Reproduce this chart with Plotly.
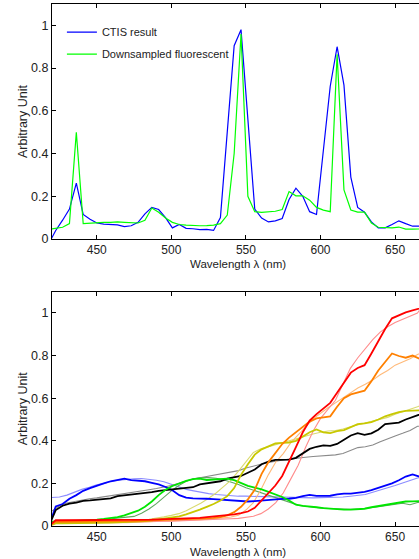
import plotly.graph_objects as go

# ---------------- data: top panel ----------------
wl_top = [417.9, 422.5, 427.1, 431.7, 436.3, 440.9, 445.5, 450.1, 454.7, 459.3,
          463.9, 468.5, 473.1, 477.7, 482.3, 486.9, 491.5, 496.1, 500.7, 505.3,
          509.9, 514.5, 519.1, 523.7, 528.3, 532.9, 537.5, 542.1, 546.7, 551.3,
          555.9, 560.5, 565.1, 569.7, 574.3, 578.9, 583.5, 588.1, 592.7, 597.3,
          601.9, 606.5, 611.1, 615.7, 620.3, 624.9, 629.5, 634.1, 638.7, 643.3,
          647.9, 652.5, 657.1, 661.7, 666.3, 670.9]

ctis_result = [-0.02, 0.04, 0.088, 0.14, 0.262, 0.115, 0.092, 0.075, 0.07, 0.068,
               0.066, 0.058, 0.062, 0.078, 0.118, 0.148, 0.138, 0.1, 0.052, 0.068,
               0.05, 0.048, 0.044, 0.045, 0.04, 0.1, 0.5, 0.905, 0.98, 0.56,
               0.14, 0.098, 0.08, 0.085, 0.096, 0.185, 0.238, 0.2, 0.128, 0.115,
               0.41, 0.715, 0.9, 0.72, 0.29, 0.148, 0.125, 0.08, 0.052, 0.052,
               0.068, 0.085, 0.072, 0.06, 0.06, 0.06]

fluorescent = [0.045, 0.05, 0.055, 0.072, 0.5, 0.072, 0.075, 0.077, 0.078, 0.078,
               0.08, 0.078, 0.076, 0.075, 0.088, 0.145, 0.125, 0.098, 0.078, 0.068,
               0.065, 0.063, 0.062, 0.063, 0.065, 0.072, 0.112, 0.4, 0.96, 0.2,
               0.128, 0.125, 0.128, 0.13, 0.138, 0.222, 0.202, 0.202, 0.182, 0.148,
               0.135, 0.128, 0.865, 0.23, 0.136, 0.126, 0.126, 0.075, 0.055, 0.052,
               0.052, 0.056, 0.046, 0.046, 0.048, 0.048]

# ---------------- data: bottom panel ----------------
# CTIS reconstructions (thick lines) on the CTIS wavelength grid
wl_ctis = wl_top

blue_ctis = [0.0, 0.092, 0.103, 0.128, 0.145, 0.165, 0.178, 0.19, 0.2, 0.21,
             0.216, 0.222, 0.215, 0.213, 0.21, 0.203, 0.195, 0.183, 0.168, 0.145,
             0.133, 0.13, 0.13, 0.128, 0.126, 0.124, 0.122, 0.12, 0.115, 0.115,
             0.117, 0.12, 0.12, 0.124, 0.127, 0.128, 0.132, 0.14, 0.146, 0.141,
             0.14, 0.142, 0.148, 0.152, 0.152, 0.155, 0.16, 0.168, 0.178, 0.19,
             0.2, 0.215, 0.232, 0.242, 0.232, 0.235]

black_ctis = [0.0, 0.075, 0.095, 0.105, 0.11, 0.118, 0.12, 0.124, 0.126, 0.13,
              0.14, 0.144, 0.147, 0.15, 0.153, 0.159, 0.165, 0.168, 0.172, 0.174,
              0.178, 0.182, 0.195, 0.2, 0.205, 0.21, 0.222, 0.228, 0.235, 0.25,
              0.265, 0.29, 0.302, 0.31, 0.312, 0.312, 0.32, 0.34, 0.362, 0.372,
              0.378, 0.376, 0.385, 0.405, 0.425, 0.436, 0.428, 0.435, 0.452, 0.478,
              0.48, 0.485, 0.5, 0.512, 0.527, 0.535]

green_ctis = [0.02, 0.022, 0.022, 0.023, 0.024, 0.025, 0.027, 0.03, 0.033, 0.037,
              0.042, 0.05, 0.06, 0.072, 0.09, 0.115, 0.145, 0.17, 0.188, 0.2,
              0.212, 0.22, 0.222, 0.216, 0.218, 0.222, 0.222, 0.215, 0.203, 0.188,
              0.18, 0.172, 0.16, 0.148, 0.136, 0.12, 0.1, 0.094, 0.092, 0.088,
              0.084, 0.081, 0.078, 0.077, 0.077, 0.078, 0.081, 0.088, 0.093, 0.1,
              0.106, 0.11, 0.115, 0.116, 0.117, 0.117]

yellow_ctis = [0.0, 0.012, 0.013, 0.013, 0.013, 0.014, 0.014, 0.015, 0.015, 0.016,
               0.017, 0.018, 0.019, 0.021, 0.023, 0.026, 0.03, 0.034, 0.038, 0.045,
               0.055, 0.065, 0.077, 0.09, 0.103, 0.12, 0.14, 0.178, 0.24, 0.29,
               0.335, 0.36, 0.375, 0.388, 0.39, 0.392, 0.4, 0.418, 0.44, 0.453,
               0.44, 0.436, 0.445, 0.45, 0.465, 0.478, 0.482, 0.488, 0.5, 0.515,
               0.525, 0.535, 0.54, 0.541, 0.542, 0.545]

orange_ctis = [0.0, 0.02, 0.02, 0.02, 0.02, 0.02, 0.02, 0.021, 0.021, 0.022,
               0.022, 0.023, 0.023, 0.024, 0.025, 0.025, 0.026, 0.027, 0.028, 0.029,
               0.03, 0.032, 0.034, 0.036, 0.038, 0.042, 0.05, 0.065, 0.09, 0.125,
               0.17, 0.245, 0.3, 0.345, 0.385, 0.415, 0.44, 0.468, 0.49, 0.505,
               0.51, 0.515, 0.56, 0.6, 0.618, 0.628, 0.635, 0.68, 0.73, 0.77,
               0.81, 0.798, 0.79, 0.8, 0.785, 0.785]

red_ctis = [0.0, 0.027, 0.027, 0.027, 0.027, 0.027, 0.027, 0.027, 0.027, 0.027,
            0.027, 0.027, 0.028, 0.028, 0.029, 0.03, 0.031, 0.032, 0.033, 0.034,
            0.035, 0.036, 0.038, 0.042, 0.045, 0.048, 0.05, 0.055, 0.06, 0.068,
            0.085, 0.12, 0.15, 0.19, 0.235, 0.3, 0.37, 0.44, 0.495, 0.525,
            0.553, 0.578, 0.625, 0.675, 0.72, 0.742, 0.755, 0.81, 0.87, 0.925,
            0.975, 0.988, 1.003, 1.012, 1.022, 1.03]

# Reference spectrometer measurements (thin lines)
wl_ref = [420, 425, 430, 435, 440, 445, 450, 455, 460, 465, 470, 475, 480, 485,
          490, 495, 500, 505, 510, 515, 520, 525, 530, 535, 540, 545, 550, 555,
          560, 565, 570, 575, 580, 585, 590, 595, 600, 605, 610, 615, 620, 625,
          630, 635, 640, 645, 650, 655, 660, 665, 670]

blue_ref = [0.134, 0.136, 0.145, 0.16, 0.172, 0.182, 0.193, 0.2, 0.21, 0.215,
            0.22, 0.222, 0.223, 0.22, 0.215, 0.208, 0.195, 0.182, 0.172, 0.165,
            0.158, 0.152, 0.148, 0.145, 0.142, 0.14, 0.14, 0.139, 0.138, 0.137,
            0.136, 0.134, 0.132, 0.131, 0.131, 0.132, 0.133, 0.133, 0.134, 0.136,
            0.14, 0.145, 0.148, 0.158, 0.168, 0.178, 0.19, 0.202, 0.214, 0.225,
            0.232]

black_ref = [0.07, 0.095, 0.108, 0.115, 0.122, 0.128, 0.132, 0.137, 0.142, 0.148,
             0.153, 0.158, 0.164, 0.17, 0.176, 0.182, 0.19, 0.2, 0.212, 0.222,
             0.228, 0.235, 0.24, 0.247, 0.253, 0.26, 0.272, 0.282, 0.29, 0.298,
             0.305, 0.31, 0.315, 0.32, 0.323, 0.326, 0.329, 0.33, 0.334, 0.34,
             0.355, 0.368, 0.372, 0.38, 0.395, 0.41, 0.423, 0.435, 0.448, 0.468,
             0.47]

green_ref = [0.02, 0.02, 0.021, 0.022, 0.023, 0.025, 0.027, 0.03, 0.034, 0.038,
             0.043, 0.045, 0.06, 0.08, 0.105, 0.135, 0.165, 0.19, 0.21, 0.222,
             0.227, 0.227, 0.224, 0.217, 0.207, 0.195, 0.18, 0.168, 0.157, 0.145,
             0.133, 0.12, 0.108, 0.098, 0.093, 0.088, 0.085, 0.082, 0.08, 0.078,
             0.078, 0.079, 0.082, 0.087, 0.092, 0.098, 0.103, 0.107, 0.1, 0.11,
             0.112]

yellow_ref = [0.015, 0.015, 0.015, 0.016, 0.016, 0.017, 0.018, 0.019, 0.02, 0.021,
              0.022, 0.024, 0.027, 0.031, 0.036, 0.043, 0.05, 0.058, 0.072, 0.09,
              0.108, 0.13, 0.155, 0.185, 0.215, 0.258, 0.3, 0.345, 0.362, 0.372,
              0.385, 0.395, 0.405, 0.412, 0.423, 0.432, 0.44, 0.446, 0.448, 0.455,
              0.466, 0.475, 0.482, 0.49, 0.5, 0.51, 0.525, 0.538, 0.548, 0.56,
              0.575]

orange_ref = [0.012, 0.012, 0.012, 0.013, 0.013, 0.013, 0.014, 0.014, 0.015, 0.015,
              0.016, 0.017, 0.018, 0.019, 0.02, 0.021, 0.022, 0.024, 0.026, 0.028,
              0.03, 0.032, 0.035, 0.038, 0.042, 0.05, 0.075, 0.11, 0.17, 0.24,
              0.3, 0.34, 0.39, 0.43, 0.465, 0.503, 0.53, 0.555, 0.578, 0.6,
              0.625, 0.648, 0.665, 0.685, 0.71, 0.73, 0.755, 0.77, 0.785, 0.805,
              0.82]

red_ref = [0.015, 0.015, 0.015, 0.015, 0.016, 0.016, 0.016, 0.017, 0.017, 0.018,
           0.018, 0.019, 0.019, 0.02, 0.021, 0.022, 0.023, 0.024, 0.025, 0.026,
           0.028, 0.029, 0.03, 0.032, 0.034, 0.036, 0.04, 0.046, 0.058, 0.08,
           0.11, 0.155, 0.22, 0.285, 0.37, 0.445, 0.505, 0.545, 0.59, 0.665,
           0.74, 0.79, 0.835, 0.875, 0.91, 0.935, 0.955, 0.97, 0.985, 1.0,
           1.05]

x_ticks = [450, 500, 550, 600, 650]
y_ticks = [0, 0.2, 0.4, 0.6, 0.8, 1]
y_ticktext = ["0", "0.2", "0.4", "0.6", "0.8", "1"]

FONT = "Liberation Sans, Arial, Helvetica, sans-serif"
TXT = "#222222"

fig = go.Figure()

# top panel
fig.add_trace(go.Scatter(x=wl_top, y=ctis_result, mode="lines", name="CTIS result",
                         legendgroup="a",
                         line=dict(color="#0000ff", width=1.2), xaxis="x", yaxis="y"))
fig.add_trace(go.Scatter(x=wl_top, y=fluorescent, mode="lines", name="Downsampled fluorescent",
                         legendgroup="b",
                         line=dict(color="#00ff00", width=1.2), xaxis="x", yaxis="y"))

# bottom panel: reference (thin) then CTIS (thick)
ref_series = [
    (blue_ref, "#8c8cff"), (black_ref, "#8a8a8a"), (green_ref, "#5fa85f"),
    (yellow_ref, "#dada70"), (orange_ref, "#ffba7a"), (red_ref, "#ff8c8c"),
]
for vals, col in ref_series:
    fig.add_trace(go.Scatter(x=wl_ref, y=vals, mode="lines", showlegend=False,
                             line=dict(color=col, width=1.1), xaxis="x2", yaxis="y2"))

ctis_series = [
    (blue_ctis, "#0000ff"), (black_ctis, "#000000"), (green_ctis, "#00e600"),
    (yellow_ctis, "#c8c800"), (orange_ctis, "#ff8000"), (red_ctis, "#ff0000"),
]
for vals, col in ctis_series:
    fig.add_trace(go.Scatter(x=wl_ctis, y=vals, mode="lines", showlegend=False,
                             line=dict(color=col, width=1.8), xaxis="x2", yaxis="y2"))

xcommon = dict(range=[420, 666], tickmode="array", tickvals=x_ticks, ticks="inside",
               ticklen=4, tickwidth=1, tickcolor="black", showline=True, linecolor="black",
               linewidth=1, mirror="ticks", showgrid=False, zeroline=False, automargin=False,
               tickfont=dict(family=FONT, size=12, color=TXT))
ycommon = dict(range=[0, 1.1], tickmode="array", tickvals=y_ticks, ticktext=y_ticktext,
               ticks="inside", ticklen=4, tickwidth=1, tickcolor="black", showline=True,
               linecolor="black", linewidth=1, mirror=False, showgrid=False, zeroline=False,
               automargin=False,
               tickfont=dict(family=FONT, size=12.5, color=TXT),
               title=dict(text="Arbitrary Unit", font=dict(family=FONT, size=12.5, color=TXT),
                          standoff=0))

fig.update_layout(
    width=419, height=559,
    margin=dict(l=52, r=0, t=4, b=33, autoexpand=False),
    paper_bgcolor="white", plot_bgcolor="white",
    font=dict(family=FONT, color=TXT),
    xaxis=dict(domain=[0, 1], anchor="y", **xcommon),
    yaxis=dict(domain=[0.5498, 1], anchor="x", **ycommon),
    xaxis2=dict(domain=[0, 1], anchor="y2", **xcommon),
    yaxis2=dict(domain=[0, 0.4489], anchor="x2", **ycommon),
    showlegend=True,
    legend=dict(x=0.027, y=0.974, xanchor="left", yanchor="top", bgcolor="rgba(0,0,0,0)",
                borderwidth=0, traceorder="grouped", tracegroupgap=3,
                font=dict(family=FONT, size=11, color=TXT)),
    annotations=[
        dict(text="Wavelength λ (nm)", x=545, xref="x", y=0.5153, yref="paper",
             xanchor="center", yanchor="top", showarrow=False, borderpad=0,
             font=dict(family=FONT, size=11.5, color=TXT)),
        dict(text="Wavelength λ (nm)", x=545, xref="x2", y=-0.0364, yref="paper",
             xanchor="center", yanchor="top", showarrow=False, borderpad=0,
             font=dict(family=FONT, size=11.5, color=TXT)),
    ],
)

fig.write_html("out.html", config={"displayModeBar": False},
               post_script="document.body.style.margin='0';document.body.style.padding='0';")
